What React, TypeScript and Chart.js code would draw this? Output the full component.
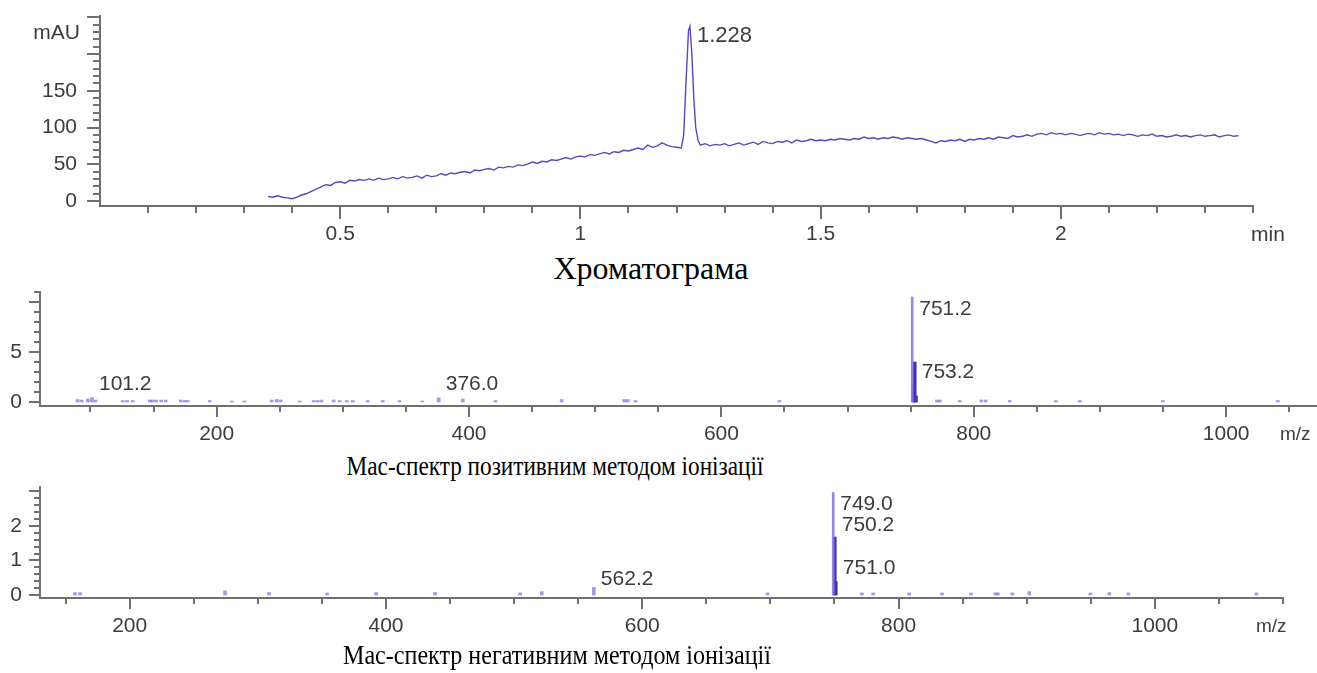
import React, { useEffect, useRef } from 'react';
import { Chart, registerables } from 'chart.js';

Chart.register(...registerables);

// ---------------- Chromatogram ----------------
const chromTime = [
  0.35, 0.36, 0.37, 0.38, 0.39, 0.40, 0.41, 0.42, 0.43, 0.44, 0.45, 0.46, 0.47, 0.48, 0.49,
  0.50, 0.51, 0.52, 0.53, 0.54, 0.55, 0.56, 0.57, 0.58, 0.59, 0.60, 0.61, 0.62, 0.63, 0.64,
  0.65, 0.66, 0.67, 0.68, 0.69, 0.70, 0.71, 0.72, 0.73, 0.74, 0.75, 0.76, 0.77, 0.78, 0.79,
  0.80, 0.81, 0.82, 0.83, 0.84, 0.85, 0.86, 0.87, 0.88, 0.89, 0.90, 0.91, 0.92, 0.93, 0.94,
  0.95, 0.96, 0.97, 0.98, 0.99, 1.00, 1.01, 1.02, 1.03, 1.04, 1.05, 1.06, 1.07, 1.08, 1.09,
  1.10, 1.11, 1.12, 1.13, 1.14, 1.15, 1.16, 1.17, 1.18, 1.19, 1.20, 1.21, 1.215, 1.22, 1.225,
  1.228, 1.232, 1.236, 1.24, 1.245, 1.25, 1.26, 1.27, 1.28, 1.29, 1.30, 1.31, 1.32, 1.33, 1.34,
  1.35, 1.36, 1.37, 1.38, 1.39, 1.40, 1.41, 1.42, 1.43, 1.44, 1.45, 1.46, 1.47, 1.48, 1.49,
  1.50, 1.51, 1.52, 1.53, 1.54, 1.55, 1.56, 1.57, 1.58, 1.59, 1.60, 1.61, 1.62, 1.63, 1.64,
  1.65, 1.66, 1.67, 1.68, 1.69, 1.70, 1.71, 1.72, 1.73, 1.74, 1.75, 1.76, 1.77, 1.78, 1.79,
  1.80, 1.81, 1.82, 1.83, 1.84, 1.85, 1.86, 1.87, 1.88, 1.89, 1.90, 1.91, 1.92, 1.93, 1.94,
  1.95, 1.96, 1.97, 1.98, 1.99, 2.00, 2.01, 2.02, 2.03, 2.04, 2.05, 2.06, 2.07, 2.08, 2.09,
  2.10, 2.11, 2.12, 2.13, 2.14, 2.15, 2.16, 2.17, 2.18, 2.19, 2.20, 2.21, 2.22, 2.23, 2.24,
  2.25, 2.26, 2.27, 2.28, 2.29, 2.30, 2.31, 2.32, 2.33, 2.34, 2.35, 2.36, 2.37,
];
const chromAbs = [
  6, 5, 7, 5, 4, 3, 5, 8, 10, 13, 16, 19, 22, 21, 25,
  26, 24, 28, 27, 29, 28, 30, 28, 31, 29, 30, 32, 30, 33, 31,
  32, 34, 31, 35, 33, 34, 37, 35, 38, 37, 39, 40, 38, 42, 41,
  43, 44, 42, 46, 45, 47, 46, 49, 48, 50, 53, 51, 54, 53, 56,
  55, 57, 59, 57, 60, 61, 60, 63, 62, 64, 66, 64, 67, 66, 69,
  68, 70, 72, 70, 76, 73, 75, 79, 76, 74, 73, 72, 90, 165, 232,
  238, 200, 140, 100, 82, 76, 78, 75, 77, 76, 78, 75, 77, 79, 76,
  78, 80, 77, 81, 79, 78, 81, 80, 82, 79, 83, 81, 82, 84, 82,
  83, 82, 84, 83, 85, 84, 83, 85, 84, 87, 85, 86, 84, 86, 85,
  87, 86, 84, 86, 85, 84, 85, 83, 81, 79, 82, 81, 83, 82, 84,
  81, 84, 83, 85, 84, 86, 84, 87, 86, 85, 89, 87, 88, 90, 88,
  91, 92, 90, 93, 91, 92, 90, 92, 91, 89, 91, 92, 90, 93, 91,
  92, 90, 91, 89, 91, 90, 88, 90, 89, 91, 88, 89, 87, 88, 90,
  88, 89, 87, 89, 90, 88, 89, 90, 87, 89, 90, 88, 89,
];
const chromPeakLabels = ['1.228'];
const chromPeakTimes = [1.228];
const chromPeakLabelLevels = [225];
const chromXLabels = [0.5, 1, 1.5, 2];
const chromXMajor = [0.5, 1, 1.5, 2];
const chromYLabels = [0, 50, 100, 150];
const chromYMajor = [0, 50, 100, 150, 200, 250];

// ---------------- Positive-mode mass spectrum ----------------
const posMainMz = [751.2];
const posMainInt = [10.5];
const posIsoMz = [752.2, 753.2, 754.2];
const posIsoInt = [1.7, 4.0, 0.6];
const posNoiseMz = [
  89.8, 93.0, 98.0, 101.2, 104.0, 125.5, 129.0, 133.4, 147.0, 149.0, 152.0, 156.0, 159.6,
  171.5, 174.6, 177.0, 194.5, 212.0, 222.0, 243.6, 247.6, 250.7, 265.8, 276.9, 280.0, 283.0,
  292.7, 297.5, 303.0, 307.8, 319.7, 331.6, 345.0, 363.0, 376.0, 395.0, 421.0, 473.4, 523.0,
  525.8, 532.0, 646.0, 770.7, 773.0, 788.9, 806.0, 809.5, 828.5, 865.0, 884.0, 949.8, 1041.0,
];
const posNoiseInt = [
  0.25, 0.2, 0.3, 0.45, 0.2, 0.15, 0.15, 0.15, 0.2, 0.2, 0.2, 0.2, 0.2,
  0.2, 0.15, 0.15, 0.15, 0.1, 0.1, 0.2, 0.25, 0.2, 0.1, 0.15, 0.15, 0.2,
  0.2, 0.15, 0.15, 0.15, 0.15, 0.15, 0.15, 0.1, 0.4, 0.3, 0.15, 0.25, 0.25,
  0.25, 0.15, 0.15, 0.2, 0.2, 0.15, 0.2, 0.2, 0.15, 0.15, 0.15, 0.15, 0.15,
];
const posPeakLabels = ['101.2', '376.0', '751.2', '753.2'];
const posPeakLabelMz = [101.2, 376.0, 751.2, 753.2];
const posPeakLabelLevels = [1.8, 1.8, 9.3, 3.0];
const posYLabels = [0, 5];
const posYMajor = [0, 5, 10];

// ---------------- Negative-mode mass spectrum ----------------
const negMainMz = [749.0];
const negMainInt = [2.97];
const negIsoMz = [750.2, 751.0];
const negIsoInt = [1.68, 0.39];
const negNoiseMz = [
  157.3, 161.2, 274.4, 308.7, 354.0, 392.3, 438.3, 504.7, 521.6, 562.2,
  697.7, 771.4, 780.2, 808.3, 833.9, 856.5, 875.5, 877.5, 888.8, 902.0,
  949.7, 964.5, 979.3, 1079.2,
];
const negNoiseInt = [
  0.07, 0.07, 0.12, 0.07, 0.06, 0.07, 0.07, 0.06, 0.1, 0.22,
  0.06, 0.06, 0.06, 0.06, 0.06, 0.06, 0.06, 0.06, 0.06, 0.1,
  0.06, 0.07, 0.06, 0.06,
];
const negPeakLabels = ['749.0', '750.2', '751.0', '562.2'];
const negPeakLabelMz = [749.0, 750.2, 751.0, 562.2];
const negPeakLabelLevels = [2.64, 2.03, 0.78, 0.46];
const negYLabels = [0, 1, 2];
const negYMajor = [0, 1, 2, 3];

const msXLabels = [200, 400, 600, 800, 1000];
const msXMajor = [200, 400, 600, 800, 1000];

// ---------------- styling ----------------
const SANS = '"Liberation Sans", Arial, sans-serif';
const SERIF = '"Liberation Serif", "Times New Roman", serif';
const AXIS = '#707070';
const TXT = '#3c3c3c';
const LINE = '#5e46bb';
const LIGHT_BAR = 'rgba(140,125,218,0.9)';
const DARK_BAR = '#4a2fb0';
const NOISE = 'rgba(105,85,210,0.6)';
const TICK_FONT = 21;

const near = (a: number, b: number) => Math.abs(a - b) < 1e-6;
const inList = (v: number, list: number[]) => list.some((m) => near(m, v));
const onStep = (v: number, step: number) => Math.abs(v / step - Math.round(v / step)) < 1e-6;

type Deco = {
  xStep: number; yStep: number;
  xMajor: number[]; yMajor: number[];
  minorLen: number; majorLen: number;
  skipXMin?: boolean;
  labels: { text: string; x: number; y: number; size: number }[];
  units: { text: string; px: number; py: number; align: CanvasTextAlign; size: number }[];
};

function makeDeco(d: Deco) {
  return {
    id: 'deco',
    afterDraw(chart: any) {
      const ctx = chart.ctx as CanvasRenderingContext2D;
      const xs = chart.scales.x;
      const ys = chart.scales.y;
      const a = chart.chartArea;
      ctx.save();
      ctx.strokeStyle = AXIS;
      ctx.lineWidth = 2;
      for (const t of xs.ticks) {
        const v = t.value;
        if (!onStep(v, d.xStep)) continue;
        if (d.skipXMin && near(v, xs.min)) continue;
        const len = inList(v, d.xMajor) ? d.majorLen : d.minorLen;
        const px = Math.round(xs.getPixelForValue(v));
        ctx.beginPath();
        ctx.moveTo(px, a.bottom);
        ctx.lineTo(px, a.bottom + len);
        ctx.stroke();
      }
      for (const t of ys.ticks) {
        const v = t.value;
        if (!onStep(v, d.yStep)) continue;
        const len = inList(v, d.yMajor) ? d.majorLen : d.minorLen;
        const py = Math.round(ys.getPixelForValue(v));
        ctx.beginPath();
        ctx.moveTo(a.left, py);
        ctx.lineTo(a.left - len, py);
        ctx.stroke();
      }
      ctx.fillStyle = TXT;
      ctx.textBaseline = 'middle';
      for (const l of d.labels) {
        ctx.font = `${l.size}px ${SANS}`;
        ctx.textAlign = 'left';
        ctx.fillText(l.text, xs.getPixelForValue(l.x) + 7, ys.getPixelForValue(l.y));
      }
      for (const u of d.units) {
        ctx.font = `${u.size}px ${SANS}`;
        ctx.textAlign = u.align;
        ctx.fillText(u.text, u.px, u.py);
      }
      ctx.restore();
    },
  };
}

function axisFit(size: number, horizontal: boolean) {
  return (s: any) => {
    if (horizontal) s.height = size; else s.width = size;
    s.paddingLeft = 0; s.paddingRight = 0; s.paddingTop = 0; s.paddingBottom = 0;
  };
}

function labelFor(labels: number[]) {
  return (v: number) => {
    const m = labels.find((l) => near(l, v));
    return m === undefined ? '' : String(m);
  };
}

function scaleX(min: number, max: number, step: number, labels: number[], fitH: number) {
  return {
    type: 'linear', min, max, offset: false,
    grid: { display: false, drawTicks: false },
    border: { display: true, color: AXIS, width: 2 },
    ticks: {
      stepSize: step, includeBounds: false, autoSkip: false, maxRotation: 0, minRotation: 0, padding: 16,
      color: TXT, font: { family: SANS, size: TICK_FONT },
      callback: labelFor(labels),
    },
    afterFit: axisFit(fitH, true),
  };
}

function scaleY(min: number, max: number, step: number, labels: number[], fitW: number, pad: number) {
  return {
    type: 'linear', min, max,
    grid: { display: false, drawTicks: false },
    border: { display: true, color: AXIS, width: 2 },
    ticks: {
      stepSize: step, includeBounds: false, autoSkip: false, padding: pad,
      color: TXT, font: { family: SANS, size: TICK_FONT },
      callback: labelFor(labels),
    },
    afterFit: axisFit(fitW, false),
  };
}

const baseOpts = {
  responsive: false,
  maintainAspectRatio: false,
  animation: false,
  events: [],
  plugins: { legend: { display: false }, tooltip: { enabled: false } },
};

function chromConfig() {
  return {
    type: 'line',
    data: {
      datasets: [{
        data: chromTime.map((t, i) => ({ x: t, y: chromAbs[i] })),
        borderColor: LINE, borderWidth: 1.4, pointRadius: 0, tension: 0, fill: false,
      }],
    },
    options: {
      ...baseOpts,
      layout: { padding: { left: 0, top: 16, right: 64, bottom: 0 } },
      scales: {
        x: scaleX(0, 2.4, 0.1, chromXLabels, 44),
        y: scaleY(-7, 252, 10, chromYLabels, 100, 23),
      },
    },
    plugins: [makeDeco({
      xStep: 0.1, yStep: 10, xMajor: chromXMajor, yMajor: chromYMajor,
      minorLen: 7, majorLen: 13, skipXMin: true,
      labels: chromPeakLabels.map((t, i) => ({ text: t, x: chromPeakTimes[i], y: chromPeakLabelLevels[i], size: 22 })),
      units: [
        { text: 'mAU', px: 80, py: 33, align: 'right', size: 21 },
        { text: 'min', px: 1251, py: 235, align: 'left', size: 21 },
      ],
    })],
  };
}

function msConfig(p: {
  mainMz: number[]; mainInt: number[]; isoMz: number[]; isoInt: number[];
  noiseMz: number[]; noiseInt: number[];
  labels: string[]; labelMz: number[]; labelLevels: number[];
  xMin: number; xMax: number; yMin: number; yMax: number; yStep: number;
  yLabels: number[]; yMajor: number[];
  top: number; right: number; unitX: number; unitY: number;
}) {
  const pts = (xs: number[], ys: number[]) => xs.map((x, i) => ({ x, y: ys[i] }));
  return {
    type: 'bar',
    data: {
      datasets: [
        { data: pts(p.noiseMz, p.noiseInt), backgroundColor: NOISE, barThickness: 3, grouped: false },
        { data: pts(p.mainMz, p.mainInt), backgroundColor: LIGHT_BAR, barThickness: 2, grouped: false },
        { data: pts(p.isoMz, p.isoInt), backgroundColor: DARK_BAR, barThickness: 3, grouped: false },
      ],
    },
    options: {
      ...baseOpts,
      layout: { padding: { left: 0, top: p.top, right: p.right, bottom: 0 } },
      scales: {
        x: scaleX(p.xMin, p.xMax, 50, msXLabels, 44),
        y: scaleY(p.yMin, p.yMax, p.yStep, p.yLabels, 40, 18),
      },
    },
    plugins: [makeDeco({
      xStep: 50, yStep: p.yStep, xMajor: msXMajor, yMajor: p.yMajor,
      minorLen: 6, majorLen: 11,
      labels: p.labels.map((t, i) => ({ text: t, x: p.labelMz[i], y: p.labelLevels[i], size: 21 })),
      units: [{ text: 'm/z', px: p.unitX, py: p.unitY, align: 'left', size: 19 }],
    })],
  };
}

function ChartCanvas({ top, height, build }: { top: number; height: number; build: () => any }) {
  const ref = useRef<HTMLCanvasElement | null>(null);
  useEffect(() => {
    if (!ref.current) return;
    const chart = new Chart(ref.current, build());
    return () => chart.destroy();
  }, []);
  return (
    <canvas
      ref={ref}
      width={1317}
      height={height}
      style={{ position: 'absolute', left: 0, top, width: 1317, height }}
    />
  );
}

function Caption({ text, cx, cy, size, sx }: { text: string; cx: number; cy: number; size: number; sx: number }) {
  return (
    <div
      style={{
        position: 'absolute', left: cx, top: cy,
        transform: `translate(-50%, -50%) scaleX(${sx})`,
        fontFamily: SERIF, fontSize: size, lineHeight: 1, whiteSpace: 'nowrap', color: '#000',
      }}
    >
      {text}
    </div>
  );
}

export default function App() {
  return (
    <div style={{ position: 'fixed', left: 0, top: 0, width: 1317, height: 673, background: '#fff', overflow: 'hidden' }}>
      <ChartCanvas top={0} height={250} build={chromConfig} />
      <Caption text="Хроматограма" cx={651} cy={268} size={32} sx={1} />
      <ChartCanvas
        top={280}
        height={170}
        build={() => msConfig({
          mainMz: posMainMz, mainInt: posMainInt, isoMz: posIsoMz, isoInt: posIsoInt,
          noiseMz: posNoiseMz, noiseInt: posNoiseInt,
          labels: posPeakLabels, labelMz: posPeakLabelMz, labelLevels: posPeakLabelLevels,
          xMin: 60, xMax: 1072, yMin: -0.4, yMax: 11, yStep: 1,
          yLabels: posYLabels, yMajor: posYMajor,
          top: 12, right: 0, unitX: 1280, unitY: 155,
        })}
      />
      <Caption text="Мас-спектр позитивним методом іонізації" cx={555} cy={466} size={28} sx={0.83} />
      <ChartCanvas
        top={480}
        height={162}
        build={() => msConfig({
          mainMz: negMainMz, mainInt: negMainInt, isoMz: negIsoMz, isoInt: negIsoInt,
          noiseMz: negNoiseMz, noiseInt: negNoiseInt,
          labels: negPeakLabels, labelMz: negPeakLabelMz, labelLevels: negPeakLabelLevels,
          xMin: 130, xMax: 1100, yMin: -0.087, yMax: 3.13, yStep: 0.2,
          yLabels: negYLabels, yMajor: negYMajor,
          top: 7, right: 34, unitX: 1256, unitY: 147,
        })}
      />
      <Caption text="Мас-спектр негативним методом іонізації" cx={557} cy={655} size={28} sx={0.86} />
    </div>
  );
}
